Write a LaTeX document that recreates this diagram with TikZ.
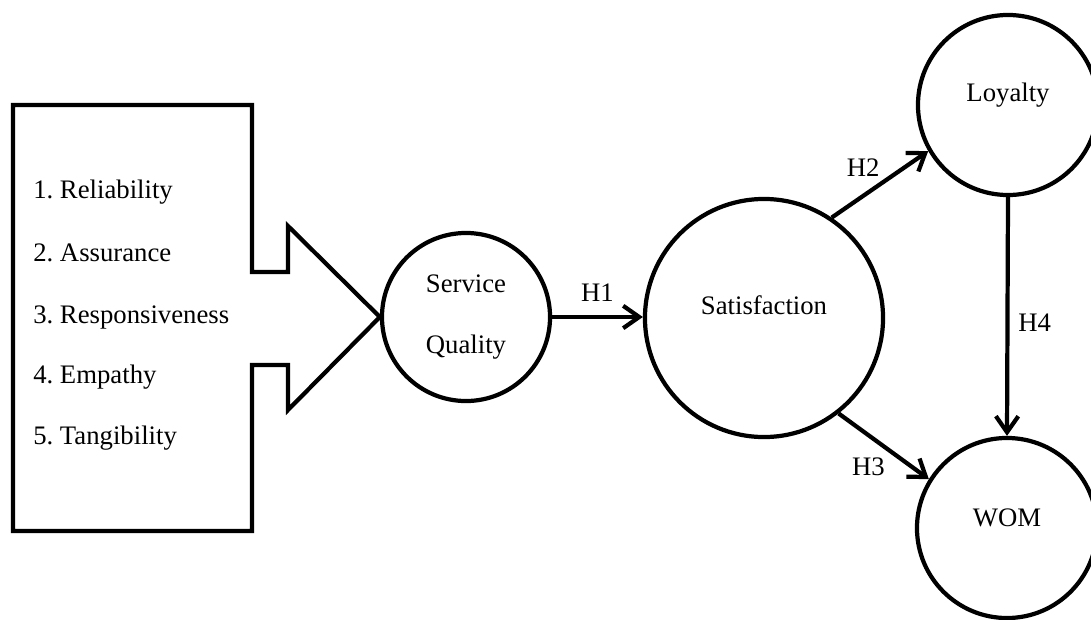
\documentclass[tikz,border=0pt]{standalone}
\usepackage{fontspec}
\setmainfont{Liberation Serif}
\usetikzlibrary{arrows.meta}

\begin{document}
\begin{tikzpicture}[x=0.025cm, y=-0.025cm, font=\fontsize{19}{22}\selectfont] % модель
\tikzstyle{bubble} = [circle, draw, line width=3pt, inner sep=0pt] % latent variable style
\tikzstyle{hyp} = [line width=3pt, -{Straight Barb[length=4mm, width=5.6mm]}] % hypothesis arrow style
\tikzstyle{dimension} = [anchor=west, inner sep=0pt] % service quality dimension

\useasboundingbox (0,0) rectangle (1091,619);
\clip (0,0) rectangle (1091,619);

\node[bubble, minimum size=4.2cm, align=center] (sq) at (466,317) {Service\\[22pt]Quality};
\node[bubble, minimum size=5.95cm, label={[yshift=0.33cm]center:Satisfaction}] (sat) at (764,318) {};
\node[bubble, minimum size=4.5cm, label={[yshift=0.25cm]center:Loyalty}] (loy) at (1008,105) {};
\node[bubble, minimum size=4.5cm, label={[yshift=0.25cm]center:WOM}] (wom) at (1007,528) {};

% блок с измерениями и стрелкой
\draw[line width=3pt] (252,105) -- (13,105) -- (13,531) -- (252,531) -- (252,365) -- (288,365)
    -- (288,410) -- (sq.west) -- (288,226) -- (288,272) -- (252,272) -- cycle;

\foreach \n/\y/\t in {1/192/Reliability, 2/253/Assurance, 3/317/Responsiveness, 4/377/Empathy, 5/438/Tangibility}
    \node[dimension] (d\n) at (33,\y) {\n.\ \t};

% гипотезы
\draw[hyp] (sq.east) -- node[yshift=0.62cm] {H1} (sq.east -| sat.west);
\draw[hyp] (sat.56) -- node[xshift=-0.42cm, yshift=0.42cm] {H2} (loy.210);
\draw[hyp] (sat.-52) -- node[xshift=-0.38cm, yshift=-0.52cm] {H3} (wom.148.5);
\draw[hyp] (loy.south) -- node[xshift=0.68cm, yshift=-0.15cm] {H4} (wom.north);
\end{tikzpicture}
\end{document}
